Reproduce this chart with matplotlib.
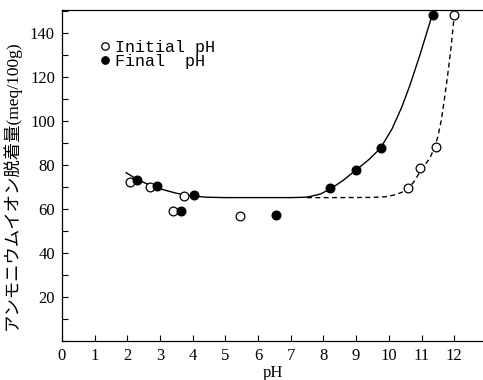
import matplotlib
matplotlib.use("Agg")
import matplotlib.pyplot as plt
from matplotlib.ticker import MultipleLocator

# Data
initial_ph = [2.1, 2.7, 3.4, 3.75, 5.45, 10.6, 10.95, 11.45, 12.0]
initial_val = [72.5, 70.0, 59.0, 66.0, 57.0, 69.5, 78.5, 88.0, 148.0]
final_ph = [2.3, 2.9, 3.65, 4.05, 6.55, 8.2, 9.0, 9.75, 11.35]
final_val = [73.0, 70.5, 59.0, 66.5, 57.5, 69.5, 77.7, 87.7, 148.0]

# Hand-drawn curves
solid_x = [1.97, 2.3, 2.7, 3.1, 3.5, 3.9, 4.4, 5.0, 6.0, 7.0, 7.5, 7.9, 8.2, 8.6,
           9.0, 9.4, 9.75, 10.1, 10.4, 10.65, 10.95, 11.3]
solid_y = [76.5, 73.5, 70.8, 68.8, 67.2, 66.1, 65.4, 65.2, 65.2, 65.2, 65.4, 66.8,
           69.0, 73.0, 77.8, 82.6, 87.8, 96.5, 106.5, 116.5, 130.0, 147.0]
dash_x = [7.5, 8.5, 9.5, 9.9, 10.2, 10.5, 10.75, 11.0, 11.25, 11.4, 11.5, 11.6,
          11.7, 11.8, 11.9, 12.0]
dash_y = [65.2, 65.2, 65.3, 65.6, 66.5, 68.2, 72.0, 78.0, 83.0, 88.0, 93.0, 100.0,
          110.0, 121.0, 133.0, 148.0]

x_ticks = list(range(0, 13))
y_major = [20, 40, 60, 80, 100, 120, 140]

fig = plt.figure(figsize=(4.83, 3.8), dpi=100)
ax = fig.add_axes([0.128, 0.1026, 0.872, 0.8711])

ax.plot(solid_x, solid_y, color="black", lw=1.0, zorder=2)
ax.plot(dash_x, dash_y, color="black", lw=1.0, ls=(0, (3.5, 2.5)), zorder=2)
ax.plot(initial_ph, initial_val, ls="none", marker="o", ms=6.3,
        mfc="white", mec="black", mew=0.9, zorder=3, label="Initial pH")
ax.plot(final_ph, final_val, ls="none", marker="o", ms=6.3,
        mfc="black", mec="black", mew=0.9, zorder=3, label="Final  pH")

ax.set_xlim(0, 12.88)
ax.set_ylim(0, 150.5)
ax.set_xticks(x_ticks)
ax.set_yticks(y_major)
ax.yaxis.set_minor_locator(MultipleLocator(10))
ax.tick_params(axis="both", which="both", direction="in", length=4, width=0.8,
               labelsize=12, pad=5)
for lab in ax.get_xticklabels() + ax.get_yticklabels():
    lab.set_family("Liberation Serif")

ax.spines["right"].set_visible(False)
for s in ["left", "bottom", "top"]:
    ax.spines[s].set_linewidth(0.9)

ax.set_xlabel("pH", family="Liberation Serif", fontsize=12, labelpad=1)
ax.set_ylabel("アンモニウムイオン脱着量(meq/100g)",
              family=["Liberation Serif", "Noto Sans CJK JP"], fontsize=12.5)
ax.yaxis.set_label_coords(-0.098, 0.47)

leg = ax.legend(loc="upper left", bbox_to_anchor=(0.075, 0.93), frameon=False,
                handlelength=0.6, handletextpad=0.3, labelspacing=-0.05,
                borderaxespad=0, markerscale=0.85,
                prop={"family": "Liberation Mono", "size": 12})

fig.savefig("out.png", dpi=100)
